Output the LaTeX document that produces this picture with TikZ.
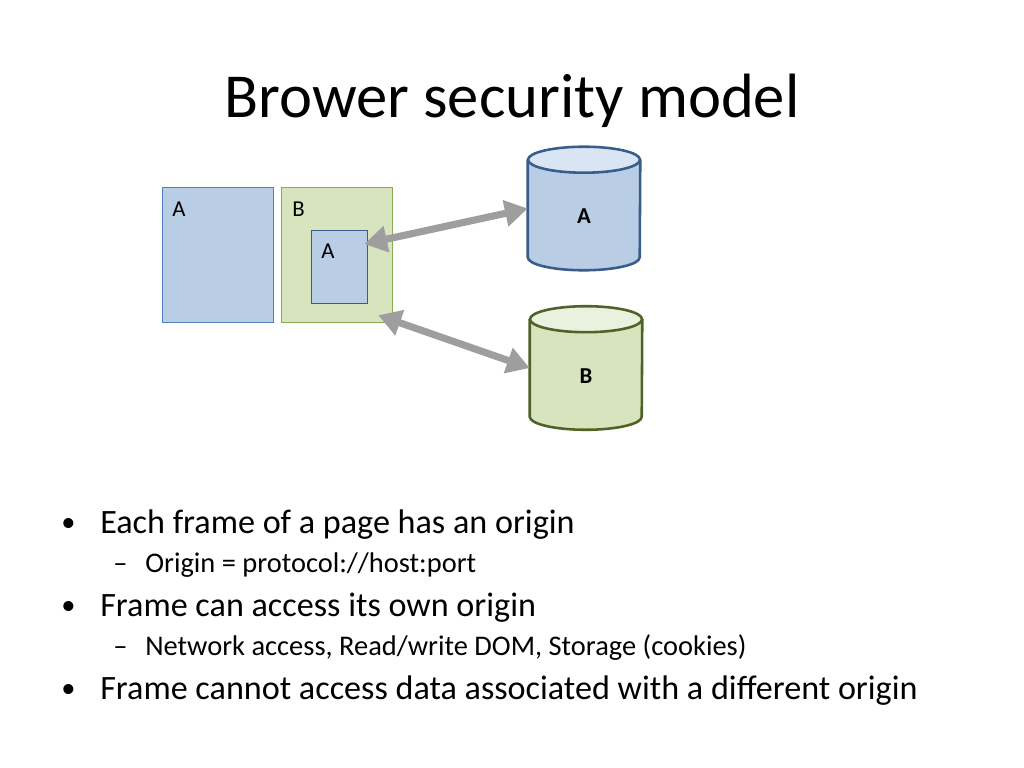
\documentclass[tikz,border=0pt]{standalone}
\usepackage{fontspec}
\setmainfont{Carlito}
\usepackage{xcolor}
\usepackage{tikz}
\usetikzlibrary{shapes.geometric,arrows.meta,positioning,calc}
\definecolor{originblue}{RGB}{185,205,229}
\definecolor{originbluetop}{RGB}{218,229,243}
\definecolor{originblueline}{RGB}{79,129,189}
\definecolor{storeblueline}{RGB}{56,93,138}
\definecolor{origingreen}{RGB}{215,228,189}
\definecolor{origingreentop}{RGB}{234,241,222}
\definecolor{origingreenline}{RGB}{140,170,80}
\definecolor{storegreenline}{RGB}{79,98,40}
\definecolor{accessgray}{RGB}{158,158,158}
\newcommand{\px}{0.703125pt}

% cylinder drawn round a named node: #1 node, #2 line, #3 body, #4 top
\newcommand{\storeshape}[4]{%
  \fill[#3] ($(#1.north west)+(0,13)$) -- ($(#1.south west)+(0,-13)$)
    arc[start angle=180, end angle=360, x radius=56*\px, y radius=13*\px]
    -- ($(#1.north east)+(0,13)$) -- cycle;
  \draw[#2, line width=1.8pt] ($(#1.north west)+(0,13)$) -- ($(#1.south west)+(0,-13)$)
    arc[start angle=180, end angle=360, x radius=56*\px, y radius=13*\px]
    -- ($(#1.north east)+(0,13)$);
  \draw[#2, line width=1.8pt, fill=#4] ($(#1.north)+(0,13)$) ellipse[x radius=56*\px, y radius=13*\px];
}

\tikzset{
  framebox/.style={draw, line width=0.9pt, anchor=north west, inner sep=0pt},
  framelabel/.style={anchor=base west, inner sep=0pt, font=\fontsize{16}{18}\selectfont},
  storebox/.style={minimum width=112*\px, minimum height=123*\px, inner sep=0pt},
  storelabel/.style={anchor=base, inner sep=0pt, font=\bfseries\fontsize{16}{18}\selectfont},
  access/.style={accessgray, line width=5pt,
    {Triangle[length=16pt,width=18pt]}-{Triangle[length=16pt,width=18pt]}},
  bulletline/.style={anchor=base west, inner sep=0pt, font=\fontsize{24}{28}\selectfont},
  subline/.style={anchor=base west, inner sep=0pt, font=\fontsize{20}{24}\selectfont}
}

\begin{document}
\begin{tikzpicture}[x=\px, y=-\px]
\useasboundingbox[fill=white] (0,0) rectangle (1024,768);

% title
\node[anchor=base, inner sep=0pt, font=\fontsize{44}{50}\selectfont] (title) at (512,118) {Brower security model};

% frames of the page
\node[framebox, draw=originblueline, fill=originblue, minimum width=111*\px, minimum height=135*\px] (frameA) at (162,187) {};
\node[framebox, draw=origingreenline, fill=origingreen, minimum width=111*\px, minimum height=135*\px] (frameB) at (281,187) {};
\node[framebox, draw=storeblueline, fill=originblue, minimum width=56*\px, minimum height=73*\px] (innerA) at (311,230) {};
\node[framelabel] (labelA) at ($(frameA.north west)+(10,30)$) {A};
\node[framelabel] (labelB) at ($(frameB.north west)+(11,30)$) {B};
\node[framelabel] (labelinnerA) at ($(innerA.north west)+(10,29)$) {A};

% storage per origin
\node[storebox] (storeA) at (584,208.5) {};
\node[storebox] (storeB) at (586,368) {};
\storeshape{storeA}{storeblueline}{originblue}{originbluetop}
\storeshape{storeB}{storegreenline}{origingreen}{origingreentop}
\node[storelabel] (storeAlabel) at ($(storeA.center)+(0,15.5)$) {A};
\node[storelabel] (storeBlabel) at ($(storeB.center)+(0,15.5)$) {B};

% access
\draw[access] ($(innerA.north east)+(-4,14)$) -- (storeA.west);
\draw[access] ($(frameB.south east)+(-15,-8)$) -- (storeB.west);

% bullets
\node[bulletline, font=\fontsize{20}{24}\selectfont] (dot1) at (61,531) {•};
\node[bulletline] (item1) at (100,533) {Each frame of a page has an origin};
\node[subline] (dash1) at (113,572) {–};
\node[subline] (sub1) at (145,572) {Origin = protocol://host:port};
\node[bulletline, font=\fontsize{20}{24}\selectfont] (dot2) at (61,614) {•};
\node[bulletline] (item2) at (100,616) {Frame can access its own origin};
\node[subline] (dash2) at (113,655) {–};
\node[subline] (sub2) at (145,655) {Network access, Read/write DOM, Storage (cookies)};
\node[bulletline, font=\fontsize{20}{24}\selectfont] (dot3) at (61,697) {•};
\node[bulletline] (item3) at (100,699) {Frame cannot access data associated with a different origin};
\end{tikzpicture}
\end{document}
